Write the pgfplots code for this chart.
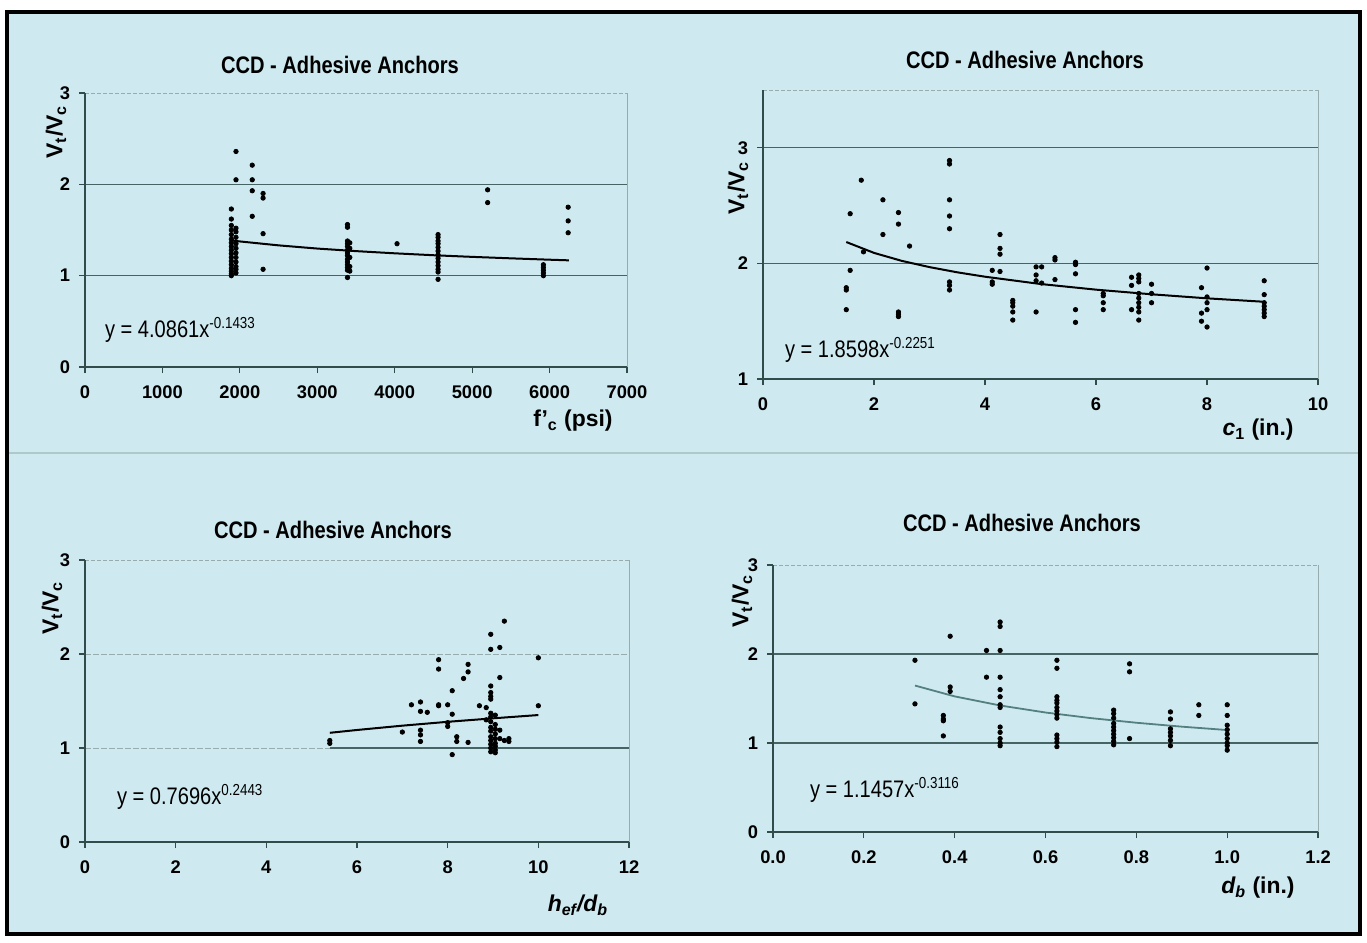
\documentclass[border=0pt]{standalone}
\usepackage{pgfplots}
\pgfplotsset{compat=1.18}
\usepackage{graphicx}
\usepackage{fontspec}
\setmainfont{Liberation Sans}
\definecolor{bg}{RGB}{206,234,240}
\definecolor{gridc}{RGB}{70,100,100}
\definecolor{axc}{RGB}{50,75,75}
\definecolor{lite}{RGB}{150,172,175}
\definecolor{trendf}{RGB}{85,128,128}
\pgfplotsset{
  ccd/.style={
    scale only axis, clip=false, anchor=south west,
    axis line style={draw=none},
    xtick pos=left, ytick pos=left,
    tick align=outside, major tick length=3bp,
    tick style={axc, line width=0.6bp},
    ticklabel style={font=\bfseries\fontsize{9.2}{10}\selectfont, black},
    xticklabel style={yshift=-3bp},
    yticklabel style={xshift=-1bp},
  },
  pts/.style={only marks, mark=*, mark size=1.1bp, black},
  trend/.style={black, line width=1bp, no marks},
}
\newcommand{\frameit}{%
  \draw[lite, dash pattern=on 2bp off 1bp, line width=0.5bp] (rel axis cs:0,1) -- (rel axis cs:1,1);
  \draw[lite, line width=0.5bp] (rel axis cs:1,1) -- (rel axis cs:1,0);
  \draw[axc, line width=0.7bp] (rel axis cs:0,1) -- (rel axis cs:0,0) -- (rel axis cs:1,0);
}
\newcommand{\narrow}[1]{\scalebox{0.84}[1]{#1}}
\begin{document}
\begin{tikzpicture}
\begin{scope}[x=0.5bp,y=-0.5bp]
\path[use as bounding box] (0,0) rectangle (1367,942);
\fill[white] (0,0) rectangle (1367,942);
\fill[bg] (7,12) rectangle (1360,934);
\draw[black, line width=2bp] (7,12) rectangle (1360,934);
\draw[lite!55!bg, line width=0.6bp] (9,453) -- (1358,453);
\end{scope}

% ---------------- Panel 1 ----------------
\begin{axis}[ccd, at={(42.5bp,-183.5bp)}, width=271bp, height=137bp,
  xmin=0, xmax=7000, ymin=0, ymax=3,
  xtick={0,1000,2000,3000,4000,5000,6000,7000},
  xticklabels={0,1000,2000,3000,4000,5000,6000,7000},
  ytick={0,1,2,3}, yticklabels={0,1,2,3}]
\draw[gridc, line width=0.6bp] (axis cs:0,1) -- (axis cs:7000,1);
\draw[gridc, line width=0.6bp] (axis cs:0,2) -- (axis cs:7000,2);
\frameit
\addplot[pts] coordinates {
(1890,1.73) (1890,1.62) (1890,1.55) (1890,1.50) (1890,1.45) (1890,1.40) (1890,1.36) (1890,1.32) (1890,1.28)
(1890,1.24) (1890,1.20) (1890,1.16) (1890,1.12) (1890,1.08) (1890,1.05) (1890,1.02) (1890,1.00)
(1950,2.36) (1950,2.05) (1950,1.52) (1950,1.48) (1950,1.42) (1950,1.35) (1950,1.30) (1950,1.25) (1950,1.20)
(1950,1.15) (1950,1.10) (1950,1.07) (1950,1.03)
(2160,2.21) (2160,2.05) (2160,1.93) (2160,1.65)
(2300,1.90) (2300,1.85) (2300,1.46) (2300,1.07)
(3390,1.56) (3390,1.53) (3390,1.38) (3390,1.35) (3390,1.32) (3390,1.28) (3390,1.25) (3390,1.22) (3390,1.18)
(3390,1.15) (3390,1.12) (3390,1.09) (3390,1.06) (3390,0.98)
(3420,1.36) (3420,1.30) (3420,1.20) (3420,1.10) (3420,1.05)
(4030,1.35)
(4560,1.45) (4560,1.42) (4560,1.38) (4560,1.35) (4560,1.31) (4560,1.27) (4560,1.23) (4560,1.19) (4560,1.15)
(4560,1.11) (4560,1.07) (4560,1.04) (4560,0.96)
(5200,1.94) (5200,1.80)
(5920,1.12) (5920,1.09) (5920,1.06) (5920,1.03) (5920,1.00)
(6240,1.75) (6240,1.60) (6240,1.47)
};
\addplot[trend] coordinates {
(1900,1.385) (2000,1.375) (2500,1.332) (3000,1.297) (3500,1.269) (4000,1.245)
(4500,1.224) (5000,1.206) (5500,1.190) (6000,1.175) (6250,1.168)
};
\end{axis}

% ---------------- Panel 2 ----------------
\begin{axis}[ccd, at={(381.5bp,-189.5bp)}, width=277.5bp, height=144.5bp,
  xmin=0, xmax=10, ymin=1, ymax=3.5,
  xtick={0,2,4,6,8,10}, xticklabels={0,2,4,6,8,10},
  ytick={1,2,3}, yticklabels={1,2,3}]
\draw[gridc, line width=0.6bp] (axis cs:0,2) -- (axis cs:10,2);
\draw[gridc, line width=0.6bp] (axis cs:0,3) -- (axis cs:10,3);
\frameit
\addplot[pts] coordinates {
(1.5,1.79) (1.5,1.77) (1.5,1.60)
(1.57,2.43) (1.57,1.94)
(1.77,2.72) (1.81,2.10)
(2.16,2.55) (2.16,2.25)
(2.44,2.44) (2.44,2.34) (2.44,1.58) (2.44,1.56) (2.44,1.54)
(2.64,2.15)
(3.36,2.89) (3.36,2.86) (3.36,2.55) (3.36,2.41) (3.36,2.30) (3.36,1.84) (3.36,1.81) (3.36,1.77)
(4.13,1.94) (4.13,1.84) (4.13,1.82)
(4.27,2.25) (4.27,2.13) (4.27,2.08) (4.27,1.93)
(4.5,1.68) (4.5,1.66) (4.5,1.63) (4.5,1.58) (4.5,1.51)
(4.92,1.97) (4.92,1.90) (4.92,1.85) (4.92,1.58)
(5.02,1.97) (5.02,1.83)
(5.26,2.05) (5.26,2.03) (5.26,1.86)
(5.63,2.01) (5.63,1.99) (5.63,1.91) (5.63,1.60) (5.63,1.49)
(6.13,1.74) (6.13,1.72) (6.13,1.66) (6.13,1.60)
(6.64,1.88) (6.64,1.81) (6.64,1.60)
(6.77,1.90) (6.77,1.87) (6.77,1.84) (6.77,1.74) (6.77,1.70) (6.77,1.66) (6.77,1.62) (6.77,1.58) (6.77,1.51)
(7.0,1.82) (7.0,1.74) (7.0,1.66)
(7.9,1.79) (7.9,1.57) (7.9,1.50)
(8.0,1.96) (8.0,1.71) (8.0,1.66) (8.0,1.60) (8.0,1.45)
(9.03,1.85) (9.03,1.73) (9.03,1.66) (9.03,1.63) (9.03,1.60) (9.03,1.57) (9.03,1.54)
};
\addplot[trend] coordinates {
(1.5,2.185) (2,2.091) (2.5,2.022) (3,1.968) (3.5,1.923) (4,1.885)
(5,1.822) (6,1.773) (7,1.733) (8,1.698) (9,1.669)
};
\end{axis}

% ---------------- Panel 3 ----------------
\begin{axis}[ccd, at={(42.5bp,-421bp)}, width=272bp, height=141bp,
  xmin=0, xmax=12, ymin=0, ymax=3,
  xtick={0,2,4,6,8,10,12}, xticklabels={0,2,4,6,8,10,12},
  ytick={0,1,2,3}, yticklabels={0,1,2,3}]
\draw[lite, dash pattern=on 3bp off 1bp, line width=0.5bp] (axis cs:0,2) -- (axis cs:12,2);
\draw[lite, dash pattern=on 3bp off 1bp, line width=0.5bp] (axis cs:0,1) -- (axis cs:5.4,1);
\draw[gridc, line width=0.6bp] (axis cs:5.4,1) -- (axis cs:12,1);
\frameit
\addplot[pts] coordinates {
(5.4,1.05) (5.4,1.08)
(7.0,1.17) (7.2,1.46)
(7.4,1.49) (7.4,1.39) (7.4,1.19) (7.4,1.14) (7.4,1.07)
(7.55,1.38)
(7.8,1.94) (7.8,1.84) (7.8,1.46) (7.8,1.45)
(8.0,1.46) (8.0,1.27) (8.0,1.23)
(8.1,1.61) (8.1,1.36) (8.1,0.93)
(8.2,1.12) (8.2,1.07)
(8.35,1.74)
(8.45,1.89) (8.45,1.81) (8.45,1.06)
(8.7,1.45) (8.85,1.43) (8.85,1.30)
(8.95,2.21) (8.95,2.05) (8.95,1.66) (8.95,1.59) (8.95,1.55) (8.95,1.52) (8.95,1.37) (8.95,1.33) (8.95,1.28)
(8.95,1.22) (8.95,1.18) (8.95,1.12) (8.95,1.08) (8.95,1.04) (8.95,1.00) (8.95,0.96)
(9.05,1.35) (9.05,1.25) (9.05,1.20) (9.05,1.15) (9.05,1.10) (9.05,1.05) (9.05,1.02) (9.05,0.98) (9.05,0.95)
(9.15,2.07) (9.15,1.75) (9.15,1.19) (9.15,1.10)
(9.25,2.35) (9.25,1.08)
(9.35,1.10) (9.35,1.07)
(10.0,1.96) (10.0,1.45)
};
\addplot[trend] coordinates {
(5.4,1.162) (6,1.192) (7,1.238) (8,1.279) (9,1.316) (10,1.351)
};
\end{axis}

% ---------------- Panel 4 ----------------
\begin{axis}[ccd, at={(386.5bp,-416bp)}, width=272.5bp, height=133.5bp,
  xmin=0, xmax=1.2, ymin=0, ymax=3,
  xtick={0,0.2,0.4,0.6,0.8,1.0,1.2}, xticklabels={0.0,0.2,0.4,0.6,0.8,1.0,1.2},
  ytick={0,1,2,3}, yticklabels={0,1,2,3}]
\draw[gridc, line width=0.6bp] (axis cs:0,1) -- (axis cs:1.2,1);
\draw[gridc, line width=0.6bp] (axis cs:0,2) -- (axis cs:1.2,2);
\frameit
\addplot[pts] coordinates {
(0.3125,1.93) (0.3125,1.44)
(0.375,1.31) (0.375,1.27) (0.375,1.25) (0.375,1.08)
(0.39,2.20) (0.39,1.63) (0.39,1.58)
(0.47,2.04) (0.47,1.74)
(0.5,2.36) (0.5,2.31) (0.5,2.04) (0.5,1.74) (0.5,1.60) (0.5,1.52) (0.5,1.43) (0.5,1.40) (0.5,1.18)
(0.5,1.12) (0.5,1.05) (0.5,1.00) (0.5,0.97)
(0.625,1.93) (0.625,1.84) (0.625,1.52) (0.625,1.48) (0.625,1.45) (0.625,1.40) (0.625,1.36) (0.625,1.32)
(0.625,1.28) (0.625,1.09) (0.625,1.05) (0.625,1.01) (0.625,0.96)
(0.75,1.37) (0.75,1.33) (0.75,1.28) (0.75,1.22) (0.75,1.18) (0.75,1.14) (0.75,1.10) (0.75,1.06) (0.75,1.02) (0.75,0.98)
(0.785,1.89) (0.785,1.80) (0.785,1.05)
(0.875,1.35) (0.875,1.27) (0.875,1.16) (0.875,1.12) (0.875,1.08) (0.875,1.03) (0.875,0.97)
(0.9375,1.43) (0.9375,1.31)
(1.0,1.43) (1.0,1.31) (1.0,1.20) (1.0,1.15) (1.0,1.10) (1.0,1.05) (1.0,1.00) (1.0,0.97) (1.0,0.92)
};
\addplot[trendf, line width=0.9bp, no marks] coordinates {
(0.3125,1.646) (0.4,1.524) (0.5,1.422) (0.6,1.343) (0.7,1.280) (0.8,1.228) (0.9,1.184) (1.0,1.146)
};
\end{axis}

% ---------------- Texts ----------------
\begin{scope}[x=0.5bp,y=-0.5bp]
\tikzset{ttl/.style={font=\bfseries\fontsize{12}{14}\selectfont},
         lab/.style={font=\bfseries\fontsize{11.5}{13}\selectfont},
         eq/.style={font=\fontsize{12}{14}\selectfont, anchor=west}}
\node[ttl] at (340,65) {\narrow{CCD - Adhesive Anchors}};
\node[ttl] at (1025,60) {\narrow{CCD - Adhesive Anchors}};
\node[ttl] at (333,530) {\narrow{CCD - Adhesive Anchors}};
\node[ttl] at (1022,523) {\narrow{CCD - Adhesive Anchors}};

\node[lab, rotate=90] at (56,132) {V\textsubscript{t}/V\textsubscript{c}};
\node[lab, rotate=90] at (738,188) {V\textsubscript{t}/V\textsubscript{c}};
\node[lab, rotate=90] at (52,608) {V\textsubscript{t}/V\textsubscript{c}};
\node[lab, rotate=90] at (742,601) {V\textsubscript{t}/V\textsubscript{c}};

\node[lab] at (573,421) {f'\textsubscript{c} (psi)};
\node[lab] at (1258,430) {\textit{c}\textsubscript{1} (in.)};
\node[lab] at (578,905) {\textit{h\textsubscript{ef}/d\textsubscript{b}}};
\node[lab] at (1258,888) {\textit{d\textsubscript{b}} (in.)};

\node[eq] at (98,330) {\narrow{y = 4.0861x\textsuperscript{-0.1433}}};
\node[eq] at (778,350) {\narrow{y = 1.8598x\textsuperscript{-0.2251}}};
\node[eq] at (110,797) {\narrow{y = 0.7696x\textsuperscript{0.2443}}};
\node[eq] at (803,790) {\narrow{y = 1.1457x\textsuperscript{-0.3116}}};
\end{scope}
\end{tikzpicture}
\end{document}
